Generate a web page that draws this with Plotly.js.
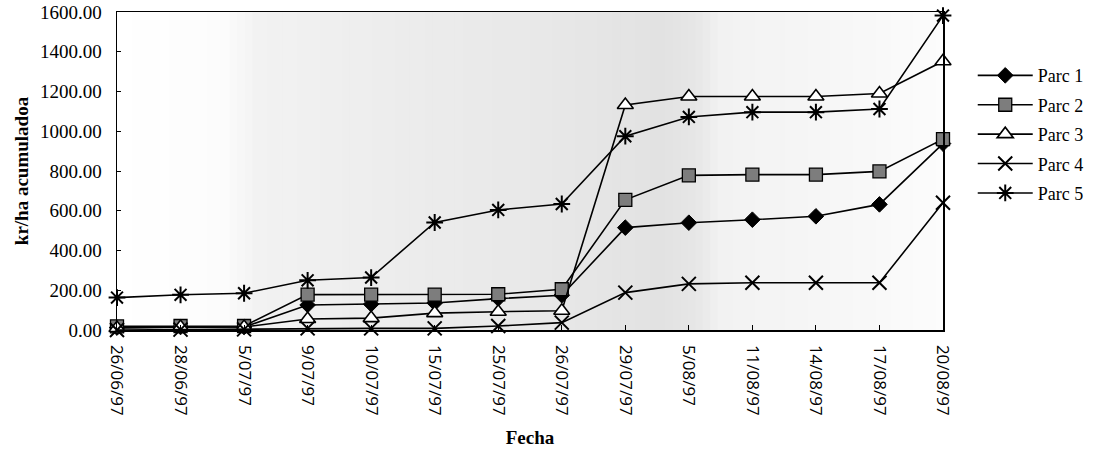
<!DOCTYPE html>
<html><head><meta charset="utf-8">
<script src="https://cdn.plot.ly/plotly-3.0.1.min.js"></script>
<style>html,body{margin:0;padding:0;background:#fff}</style>
</head><body><div id="chart" style="width:1101px;height:456px"></div>
<script>
var fechas = ["26/06/97","28/06/97","5/07/97","9/07/97","10/07/97","15/07/97","25/07/97","26/07/97","29/07/97","5/08/97","11/08/97","14/08/97","17/08/97","20/08/97"];
var parc1 = [12, 15, 15, 126, 130, 136, 158, 175, 515, 540, 555, 572, 632, 938];
var parc2 = [18, 20, 20, 178, 178, 178, 180, 205, 655, 778, 782, 782, 798, 960];
var parc3 = [10, 15, 15, 55, 60, 85, 92, 97, 1132, 1175, 1175, 1175, 1190, 1352];
var parc4 = [0, 2, 3, 8, 8, 8, 20, 37, 188, 232, 238, 238, 238, 640];
var parc5 = [163, 177, 185, 250, 264, 541, 604, 634, 975, 1072, 1096, 1096, 1112, 1582];
var nombres = ["Parc 1","Parc 2","Parc 3","Parc 4","Parc 5"];

var serie = [parc1, parc2, parc3, parc4, parc5];
var markers = [
  {symbol:"diamond", size:12, color:"#000", line:{color:"#000", width:1}},
  {symbol:"square", size:13, color:"#7d7d7d", line:{color:"#000", width:1.3}},
  {symbol:"triangle-up", size:14, color:"#fff", line:{color:"#000", width:1.6}},
  {symbol:"x-thin-open", size:14, color:"#000", line:{color:"#000", width:2}},
  {symbol:"asterisk-open", size:14, color:"#000", line:{color:"#000", width:2}}
];
var traces = serie.map(function(v, i){
  return {x: fechas, y: v, name: nombres[i], legendgroup: "g" + i, type: "scatter", mode: "lines+markers",
    line: {color: "#000", width: 1.6}, marker: markers[i], cliponaxis: false};
});

// scanned-paper background shading (styling only)
var stopsX = [0.0, 0.13, 0.17, 0.35, 0.52, 0.66, 0.70, 0.73, 0.88, 1.0];
var stopsG = [255, 252, 242, 236, 232, 226, 230, 242, 247, 252];
var shapes = [];
var n = 110;
for (var k = 0; k < n; k++) {
  var xm = (k + 0.5) / n, j = 0;
  while (j < stopsX.length - 2 && xm > stopsX[j + 1]) j++;
  var t = (xm - stopsX[j]) / (stopsX[j + 1] - stopsX[j]);
  var g = Math.round(stopsG[j] + t * (stopsG[j + 1] - stopsG[j]));
  shapes.push({type:"rect", xref:"paper", yref:"paper", x0:k / n, x1:(k + 1) / n + 0.002, y0:0, y1:1,
    fillcolor:"rgb(" + g + "," + g + "," + g + ")", line:{width:0}, layer:"below"});
}

var layout = {
  width: 1101, height: 456,
  margin: {l: 117, r: 156, t: 12, b: 126},
  paper_bgcolor: "#fff", plot_bgcolor: "#fff",
  font: {family: "Liberation Serif, Times New Roman, serif", color: "#000", size: 18},
  shapes: shapes,
  showlegend: true,
  legend: {x: 1.036, y: 0.858, xanchor: "left", yanchor: "top", traceorder: "grouped", tracegroupgap: 3,
    font: {size: 18}, itemwidth: 55, bgcolor: "rgba(0,0,0,0)"},
  xaxis: {
    type: "category", range: [0, 13], tickangle: 90,
    showline: true, linecolor: "#000", linewidth: 1.5, mirror: true,
    ticks: "inside", ticklen: 5, tickcolor: "#000",
    showgrid: false, zeroline: false,
    tickfont: {family: "Open Sans, Lato, sans-serif", size: 17}, ticklabelstandoff: 10,
    title: {text: "<b>Fecha</b>", font: {size: 19}, standoff: 16}
  },
  yaxis: {
    range: [0, 1600], dtick: 200, tickformat: ".2f",
    showline: true, linecolor: "#000", linewidth: 1.5, mirror: true,
    ticks: "inside", ticklen: 4, tickcolor: "#000",
    showgrid: false, zeroline: false,
    tickfont: {size: 19}, ticklabelstandoff: 10,
    title: {text: "<b>kr/ha acumuladoa</b>", font: {size: 19}, standoff: 6}
  }
};
Plotly.newPlot("chart", traces, layout, {displayModeBar: false, staticPlot: true});
</script></body></html>
